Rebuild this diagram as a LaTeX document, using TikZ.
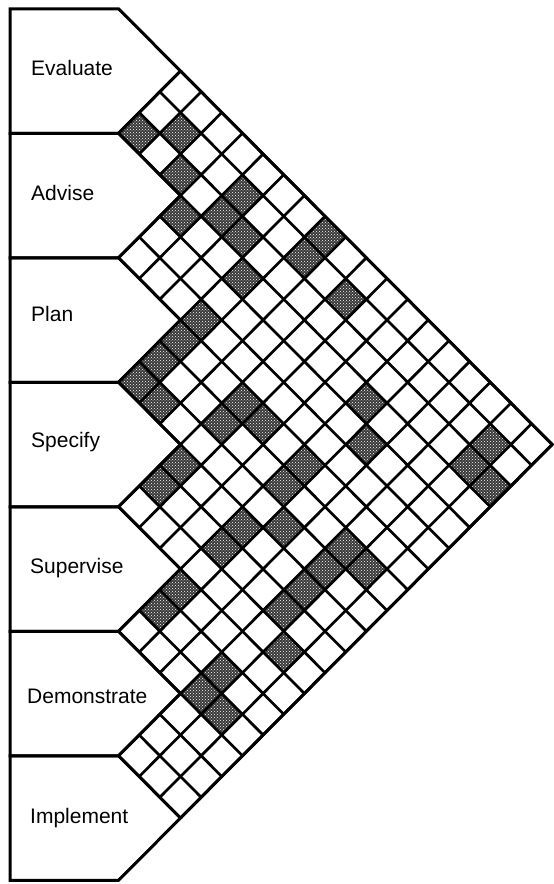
\documentclass[tikz,border=0pt]{standalone}
\usepackage{fontspec}
\setmainfont{Liberation Sans}
\usetikzlibrary{patterns}
\newcommand\cx{20.65}
\newcommand\cy{20.75}
\newcommand\ox{180.5}
\newcommand\oy{71}
\newcommand\lpt[2]{({\ox+((#1)-(#2))*\cx},{\oy+((#1)+(#2))*\cy})}
\begin{document}
\begin{tikzpicture}[x=1pt,y=-1pt,
  gridline/.style={line width=2.7pt, line cap=round},
  outline/.style={line width=3pt, line join=miter},
  shadedcell/.style={fill=black!78, postaction={pattern=crosshatch dots, pattern color=white}},
  boxlabel/.style={anchor=base west, inner sep=0pt, font=\fontsize{21}{25}\selectfont}]
\useasboundingbox (0,0) rectangle (554,884);
% shaded cells (p = down-right index, q = down-left index)
\foreach \p/\q in {0/2,1/1,2/2, 4/1,4/2,5/2, 7/0,7/1, 9/1, 16/1,16/2,17/2,
  3/3, 6/3,6/5, 12/3,13/4,
  6/6,6/7,6/8,7/8, 9/6,9/7,10/6, 12/6,12/7,13/8, 15/7,15/8,16/7,
  9/9,9/10, 12/9,12/10, 15/9,15/10,16/11,
  12/12,12/13, 15/13,15/14,16/14}{
  \path[shadedcell] \lpt{\p}{\q} -- \lpt{\p+1}{\q} -- \lpt{\p+1}{\q+1} -- \lpt{\p}{\q+1} -- cycle;
}
% grid lines going up-right (constant p)
\foreach \k in {0,...,18}{
  \pgfmathtruncatemacro\wm{min(3*floor(\k/3)+3,18)}
  \draw[gridline] \lpt{\k}{0} -- \lpt{\k}{\wm};
}
% grid lines going down-right (constant q)
\foreach \m in {0,...,18}{
  \pgfmathtruncatemacro\um{\m==0 ? 0 : 3*floor((\m-1)/3)}
  \draw[gridline] \lpt{\um}{\m} -- \lpt{18}{\m};
}
% boxes
\foreach \k in {0,...,6}{
  \pgfmathsetmacro\yt{\oy+(6*\k-3)*\cy}
  \pgfmathsetmacro\yb{\oy+(6*\k+3)*\cy}
  \draw[outline] (10,\yt) -- \lpt{3*\k-3}{3*\k} -- \lpt{3*\k}{3*\k} -- \lpt{3*\k}{3*\k+3} -- (10,\yb) -- cycle;
}
% outer edges of the grid
\draw[outline] \lpt{0}{0} -- \lpt{18}{0} -- \lpt{18}{18};
% labels
\node[boxlabel] (evaluate) at (31,75) {Evaluate};
\node[boxlabel] (advise) at (31,200) {Advise};
\node[boxlabel] (plan) at (31,321) {Plan};
\node[boxlabel] (specify) at (31,447) {Specify};
\node[boxlabel] (supervise) at (30,573) {Supervise};
\node[boxlabel] (demonstrate) at (27,703) {Demonstrate};
\node[boxlabel] (implement) at (30,823) {Implement};
\end{tikzpicture}
\end{document}
